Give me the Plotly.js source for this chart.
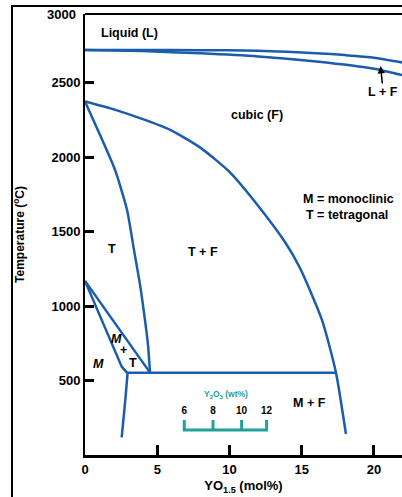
<!DOCTYPE html>
<html>
<head>
<meta charset="utf-8">
<script src="https://cdn.plot.ly/plotly-3.0.1.min.js"></script>
<style>html,body{margin:0;padding:0;background:#fff;}#chart{width:402px;height:497px;}</style>
</head>
<body>
<div id="chart"></div>
<script>
// ---- data (x: YO1.5 mol%, y: temperature degC) ----
var liquidusX = [0, 4, 8, 12, 14, 16, 18, 20, 22];
var liquidusT = [2720, 2720, 2718, 2715, 2708, 2698, 2685, 2668, 2635];

var solidusX = [0, 4, 8, 12, 16, 20, 22];
var solidusT = [2720, 2712, 2697, 2676, 2642, 2594, 2550];

var cubicX = [0, 2.1, 4.0, 5.9, 8.0, 10.0, 12.1, 13.84, 14.88, 16.4, 17.37, 18.06];
var cubicT = [2373, 2317, 2255, 2183, 2062, 1901, 1659, 1430, 1256, 907, 553, 141];

var tetraX = [0, 1.04, 2.08, 2.91, 3.39, 3.81, 4.15, 4.36, 4.5];
var tetraT = [2373, 2149, 1914, 1645, 1377, 1142, 907, 739, 553];

var eutectoidX = [2.9, 17.37];
var eutectoidT = [553, 553];

var mtUpperX = [0, 4.5];
var mtUpperT = [1169, 553];

var mtLowerX = [0, 2.54, 2.9];
var mtLowerT = [1169, 593, 553];

var monoX = [2.95, 2.8, 2.54];
var monoT = [553, 380, 119];

// Y2O3 (wt%) secondary scale
var wtTickX = [6.87, 8.86, 10.84, 12.57];
var wtTickText = ['6', '8', '10', '12'];
var wtBaseT = 168, wtTopT = 235, wtLabelT = 291;

// axis ticks
var xTickVals = [0, 5, 10, 15, 20];
var yTickVals = [500, 1000, 1500, 2000, 2500];

// region labels
var labelText = ['Liquid (L)', 'cubic (F)', 'L + F', 'M = monoclinic', 'T = tetragonal', 'T', 'T + F',
                 '<i>M</i>', '<i>M</i>', '+', 'T', 'M + F'];
var labelX = [3.05, 11.88, 20.64, 18.23, 18.11, 1.85, 8.17, 0.92, 2.15, 2.65, 3.30, 15.57];
var labelY = [2834, 2283, 2440, 1717, 1612, 1383, 1363, 611, 779, 705, 620, 349];

// ---- drawing ----
var blue = '#1b5cac';
var teal = '#22a19a';
var FONT = 'Liberation Sans, Arial, sans-serif';

function line(x, y, shape) {
  return {x: x, y: y, type: 'scatter', mode: 'lines', hoverinfo: 'skip',
          line: {color: blue, width: 2.5, shape: shape || 'linear', smoothing: 0.6}};
}

var bx = [], by = [];
var n = wtTickX.length;
bx.push(wtTickX[0], wtTickX[0], wtTickX[n-1], wtTickX[n-1]);
by.push(wtTopT, wtBaseT, wtBaseT, wtTopT);
for (var i = 1; i < n - 1; i++) {
  bx.push(null, wtTickX[i], wtTickX[i]);
  by.push(null, wtBaseT, wtTopT);
}

var traces = [
  line(liquidusX, liquidusT, 'spline'),
  line(solidusX, solidusT, 'spline'),
  line(cubicX, cubicT, 'spline'),
  line(tetraX, tetraT, 'spline'),
  line(eutectoidX, eutectoidT),
  line(mtUpperX, mtUpperT),
  line(mtLowerX, mtLowerT),
  line(monoX, monoT, 'spline'),
  {x: bx, y: by, type: 'scatter', mode: 'lines', hoverinfo: 'skip',
   line: {color: teal, width: 3}},
  {x: wtTickX, y: wtTickX.map(function(){return wtLabelT;}), text: wtTickText,
   type: 'scatter', mode: 'text', hoverinfo: 'skip', cliponaxis: false,
   textfont: {family: FONT, size: 10, color: '#000', weight: 700}}
];

var annotations = labelText.map(function(t, i) {
  return {x: labelX[i], y: labelY[i], xref: 'x', yref: 'y', text: t, showarrow: false,
          font: {family: FONT, size: 12.5, color: '#000', weight: 700}};
});
// arrow for L + F
annotations[2].showarrow = true;
annotations[2].x = 20.46; annotations[2].y = 2612;
annotations[2].ax = 2.5; annotations[2].ay = 26;
annotations[2].arrowhead = 2; annotations[2].arrowsize = 1; annotations[2].arrowwidth = 1.5;
annotations[2].arrowcolor = '#000'; annotations[2].standoff = 0;

// Y2O3 scale title
annotations.push({x: 9.76, y: 403, xref: 'x', yref: 'y', showarrow: false,
  text: 'Y<sub>2</sub>O<sub>3</sub> (wt%)', font: {family: FONT, size: 8.5, color: teal, weight: 700}});
// 3000 label at top edge
annotations.push({x: 0, y: 2961, xref: 'paper', yref: 'y', xanchor: 'right', xshift: -7, showarrow: false,
  text: '3000', font: {family: FONT, size: 13, color: '#000', weight: 700}});

var layout = {
  width: 402, height: 497,
  margin: {l: 85, r: 0, t: 14, b: 42, pad: 0},
  paper_bgcolor: '#fff', plot_bgcolor: '#fff',
  showlegend: false,
  xaxis: {
    range: [0, 21.94], showgrid: false, zeroline: false,
    showline: true, linecolor: '#000', linewidth: 3,
    ticks: 'inside', ticklen: 10, tickwidth: 3, tickcolor: '#000',
    tickvals: xTickVals,
    tickfont: {family: FONT, size: 13, color: '#000', weight: 700},
    title: {text: 'YO<sub>1.5</sub> (mol%)', standoff: 6,
            font: {family: FONT, size: 13, color: '#000', weight: 700}}
  },
  yaxis: {
    range: [0, 2961], showgrid: false, zeroline: false,
    showline: true, linecolor: '#000', linewidth: 2,
    ticks: 'inside', ticklen: 9, tickwidth: 3, tickcolor: '#000',
    tickvals: yTickVals,
    tickfont: {family: FONT, size: 13, color: '#000', weight: 700},
    title: {text: 'Temperature (<sup>o</sup>C)', standoff: 24,
            font: {family: FONT, size: 12, color: '#000', weight: 700}}
  },
  shapes: [
    {type: 'line', xref: 'paper', yref: 'paper', x0: 0, x1: 1.05, y0: 1, y1: 1,
     line: {color: '#000', width: 2}},
    {type: 'rect', xref: 'paper', yref: 'paper', x0: -0.2303, x1: 1.2, y0: -0.2, y1: 1.0181,
     line: {color: '#000', width: 2}, fillcolor: 'rgba(0,0,0,0)'}
  ],
  annotations: annotations
};

Plotly.newPlot('chart', traces, layout, {staticPlot: true, displayModeBar: false});
</script>
</body>
</html>
